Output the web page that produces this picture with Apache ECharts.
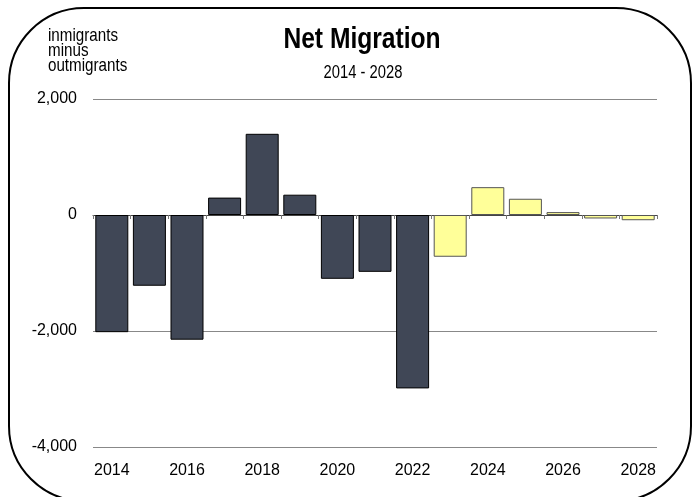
<!DOCTYPE html>
<html>
<head>
<meta charset="utf-8">
<script src="https://cdn.jsdelivr.net/npm/echarts@6/dist/echarts.min.js"></script>
<style>
html,body{margin:0;padding:0;background:#fff;}
#chart{width:692px;height:497px;}
</style>
</head>
<body>
<div id="chart"></div>
<script>
const years = ['2014','2015','2016','2017','2018','2019','2020','2021','2022','2023','2024','2025','2026','2027','2028'];
const actualValues = [-2020, -1220, -2150, 300, 1400, 350, -1100, -980, -2990, '-', '-', '-', '-', '-', '-'];
const projectedValues = ['-', '-', '-', '-', '-', '-', '-', '-', '-', -720, 480, 280, 50, -60, -90];
const yTicks = { min: -4000, max: 2000, interval: 2000 };
const titleText = 'Net Migration';
const subtitleText = '2014 - 2028';
const unitLines = ['inmigrants', 'minus', 'outmigrants'];

const FONT = '"Liberation Sans Narrow", "Arial Narrow", "Liberation Sans", Arial, sans-serif';
const NARROW = 0.82;

function txt(text, x, y, size, opts) {
  return Object.assign({
    type: 'text', x: x, y: y, z: 100, scaleX: NARROW, silent: true,
    style: Object.assign({ text: text, fontSize: size, fontFamily: FONT, fill: '#000', align: 'left', verticalAlign: 'middle' }, opts || {})
  });
}

const chart = echarts.init(document.getElementById('chart'), null, {renderer: 'canvas'});
chart.setOption({
  backgroundColor: '#fff',
  animation: false,
  grid: { left: 93, right: 35, top: 99, bottom: 50 },
  xAxis: [
    {
      type: 'category', data: years, position: 'bottom',
      axisLine: { show: false, onZero: false },
      axisTick: { show: false },
      axisLabel: { interval: 1, fontSize: 16, color: '#000', fontFamily: FONT, margin: 16 }
    },
    {
      type: 'category', data: years, position: 'bottom',
      axisLine: { show: true, onZero: true, lineStyle: { color: '#444', width: 1 } },
      axisTick: { show: true, length: 4, lineStyle: { color: '#777' } },
      axisLabel: { show: false },
      splitLine: { show: false }
    }
  ],
  yAxis: {
    type: 'value', min: yTicks.min, max: yTicks.max, interval: yTicks.interval,
    axisLine: { show: false }, axisTick: { show: false },
    axisLabel: {
      fontSize: 16, color: '#000', fontFamily: FONT, margin: 16,
      formatter: v => (v < 0 ? '-' : '') + Math.abs(v).toLocaleString('en-US')
    },
    splitLine: { show: true, lineStyle: { color: '#888', width: 1 } }
  },
  series: [
    {
      type: 'bar', stack: 'a', data: actualValues, barWidth: 33, xAxisIndex: 0,
      itemStyle: { color: '#404756', borderColor: '#000', borderWidth: 1 }
    },
    {
      type: 'bar', stack: 'a', data: projectedValues, barWidth: 33, xAxisIndex: 0,
      itemStyle: { color: '#FFFF99', borderColor: '#555', borderWidth: 1 }
    }
  ],
  graphic: [
    {
      type: 'rect', silent: true, z: 100,
      shape: { x: 9, y: 8, width: 682, height: 493, r: 75 },
      style: { fill: 'none', stroke: '#000', lineWidth: 2 }
    },
    txt(titleText, 362, 39.5, 30, { fontWeight: 'bold', align: 'center' }),
    txt(subtitleText, 363, 73, 18, { align: 'center' }),
    txt(unitLines[0], 48, 35.5, 18.5),
    txt(unitLines[1], 48, 50.5, 18.5),
    txt(unitLines[2], 48, 65.5, 18.5)
  ]
});
</script>
</body>
</html>
